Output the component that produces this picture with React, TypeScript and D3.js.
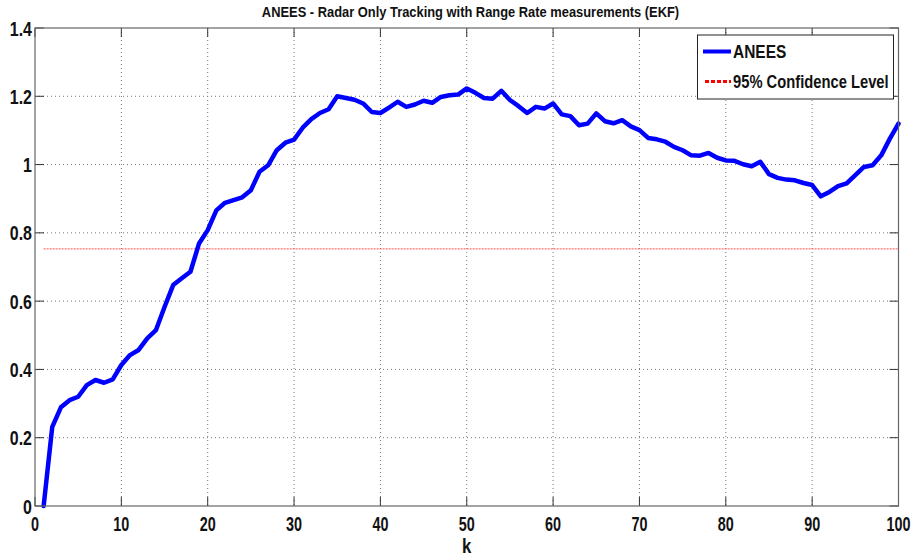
import React from "react";
import * as d3 from "d3";

const W = 912;
const H = 558;

const title = "ANEES - Radar Only Tracking with Range Rate measurements (EKF)";
const xLabel = "k";
const seriesNames = ["ANEES", "95% Confidence Level"];

const kValues = d3.range(1, 101);
const anees = [
  0, 0.232, 0.289, 0.31, 0.32, 0.354, 0.369, 0.361, 0.371, 0.413,
  0.442, 0.457, 0.491, 0.515, 0.583, 0.647, 0.667, 0.686, 0.769, 0.808,
  0.866, 0.888, 0.896, 0.904, 0.925, 0.979, 0.998, 1.042, 1.064, 1.073,
  1.108, 1.133, 1.151, 1.162, 1.2, 1.195, 1.19, 1.179, 1.154, 1.151,
  1.167, 1.184, 1.169, 1.176, 1.187, 1.181, 1.198, 1.203, 1.205, 1.223,
  1.21, 1.195, 1.193, 1.216, 1.189, 1.171, 1.151, 1.169, 1.164, 1.179,
  1.147, 1.142, 1.115, 1.12, 1.15, 1.127, 1.121, 1.13, 1.112, 1.101,
  1.078, 1.074, 1.067, 1.052, 1.042, 1.027, 1.026, 1.034, 1.02, 1.012,
  1.011, 1.001, 0.995, 1.008, 0.972, 0.961, 0.956, 0.954, 0.946, 0.94,
  0.907, 0.92, 0.937, 0.945, 0.969, 0.993, 0.998, 1.027, 1.076, 1.12,
];
const confidenceLevel = 0.753;

const xTicks = [0, 10, 20, 30, 40, 50, 60, 70, 80, 90, 100];
const yTicks = [0, 0.2, 0.4, 0.6, 0.8, 1, 1.2, 1.4];
const yTickLabels = ["0", "0.2", "0.4", "0.6", "0.8", "1", "1.2", "1.4"];

const FONT = "'Liberation Sans', Arial, sans-serif";

function NText(props: {
  x: number;
  y: number;
  sx?: number;
  size: number;
  anchor?: string;
  children: React.ReactNode;
}) {
  const { x, y, sx = 0.78, size, anchor = "start", children } = props;
  return (
    <text
      transform={`translate(${x},${y}) scale(${sx},1)`}
      textAnchor={anchor}
      fontSize={size}
      fontWeight="bold"
      fill="#111"
    >
      {children}
    </text>
  );
}

export default function App() {
  const left = 35, right = 898.5, top = 28, bottom = 506;
  const x = d3.scaleLinear().domain([0, 100]).range([left, right]);
  const y = d3.scaleLinear().domain([0, 1.4]).range([bottom, top]);

  const line = d3
    .line<number>()
    .x((_, i) => x(kValues[i]))
    .y((d) => y(d));

  const tickLen = 9;

  return (
    <svg
      width={W}
      height={H}
      style={{ position: "absolute", left: 0, top: 0, background: "#fff" }}
      fontFamily={FONT}
    >
      <rect x={0} y={0} width={W} height={H} fill="#fff" />
      {xTicks.slice(1, -1).map((t) => (
        <line
          key={"gx" + t}
          x1={x(t)}
          x2={x(t)}
          y1={top}
          y2={bottom}
          stroke="#777"
          strokeWidth={1}
          strokeDasharray="1,3"
        />
      ))}
      {yTicks.slice(1, -1).map((t) => (
        <line
          key={"gy" + t}
          x1={left}
          x2={right}
          y1={y(t)}
          y2={y(t)}
          stroke="#777"
          strokeWidth={1}
          strokeDasharray="1,3"
        />
      ))}
      {xTicks.map((t) => (
        <g key={"tx" + t}>
          <line x1={x(t)} x2={x(t)} y1={bottom} y2={bottom - tickLen} stroke="#333" />
          <line x1={x(t)} x2={x(t)} y1={top} y2={top + tickLen} stroke="#333" />
          <NText x={x(t)} y={bottom + 25} size={20} sx={0.72} anchor="middle">
            {t}
          </NText>
        </g>
      ))}
      {yTicks.map((t, i) => (
        <g key={"ty" + t}>
          <line x1={left} x2={left + tickLen} y1={y(t)} y2={y(t)} stroke="#333" />
          <line x1={right} x2={right - tickLen} y1={y(t)} y2={y(t)} stroke="#333" />
          <NText x={32} y={y(t) + 7.5} size={21} sx={0.76} anchor="end">
            {yTickLabels[i]}
          </NText>
        </g>
      ))}
      <line
        x1={x(kValues[0])}
        x2={x(kValues[kValues.length - 1])}
        y1={y(confidenceLevel)}
        y2={y(confidenceLevel)}
        stroke="#ff5050"
        strokeWidth={1}
        strokeDasharray="2,1"
      />
      <path
        d={line(anees) || ""}
        fill="none"
        stroke="#0000ff"
        strokeWidth={4.5}
        strokeLinejoin="round"
        strokeLinecap="round"
      />
      <rect
        x={left}
        y={top}
        width={right - left}
        height={bottom - top}
        fill="none"
        stroke="#666"
        strokeWidth={1.2}
      />
      <NText x={(265 + 676) / 2} y={17} size={15} sx={0.86} anchor="middle">
        {title}
      </NText>
      <NText x={x(50)} y={553} size={21} sx={0.8} anchor="middle">
        {xLabel}
      </NText>
      <g>
        <rect x={697.5} y={35} width={196} height={64} fill="#fff" stroke="#222" strokeWidth={1} />
        <line x1={703} x2={731} y1={51.5} y2={51.5} stroke="#0000ff" strokeWidth={4} />
        <NText x={733} y={58} size={18} sx={0.86}>
          {seriesNames[0]}
        </NText>
        <line
          x1={705}
          x2={731}
          y1={81.5}
          y2={81.5}
          stroke="#ff0000"
          strokeWidth={3}
          strokeDasharray="4,2"
        />
        <NText x={733} y={88} size={18} sx={0.82}>
          {seriesNames[1]}
        </NText>
      </g>
    </svg>
  );
}
